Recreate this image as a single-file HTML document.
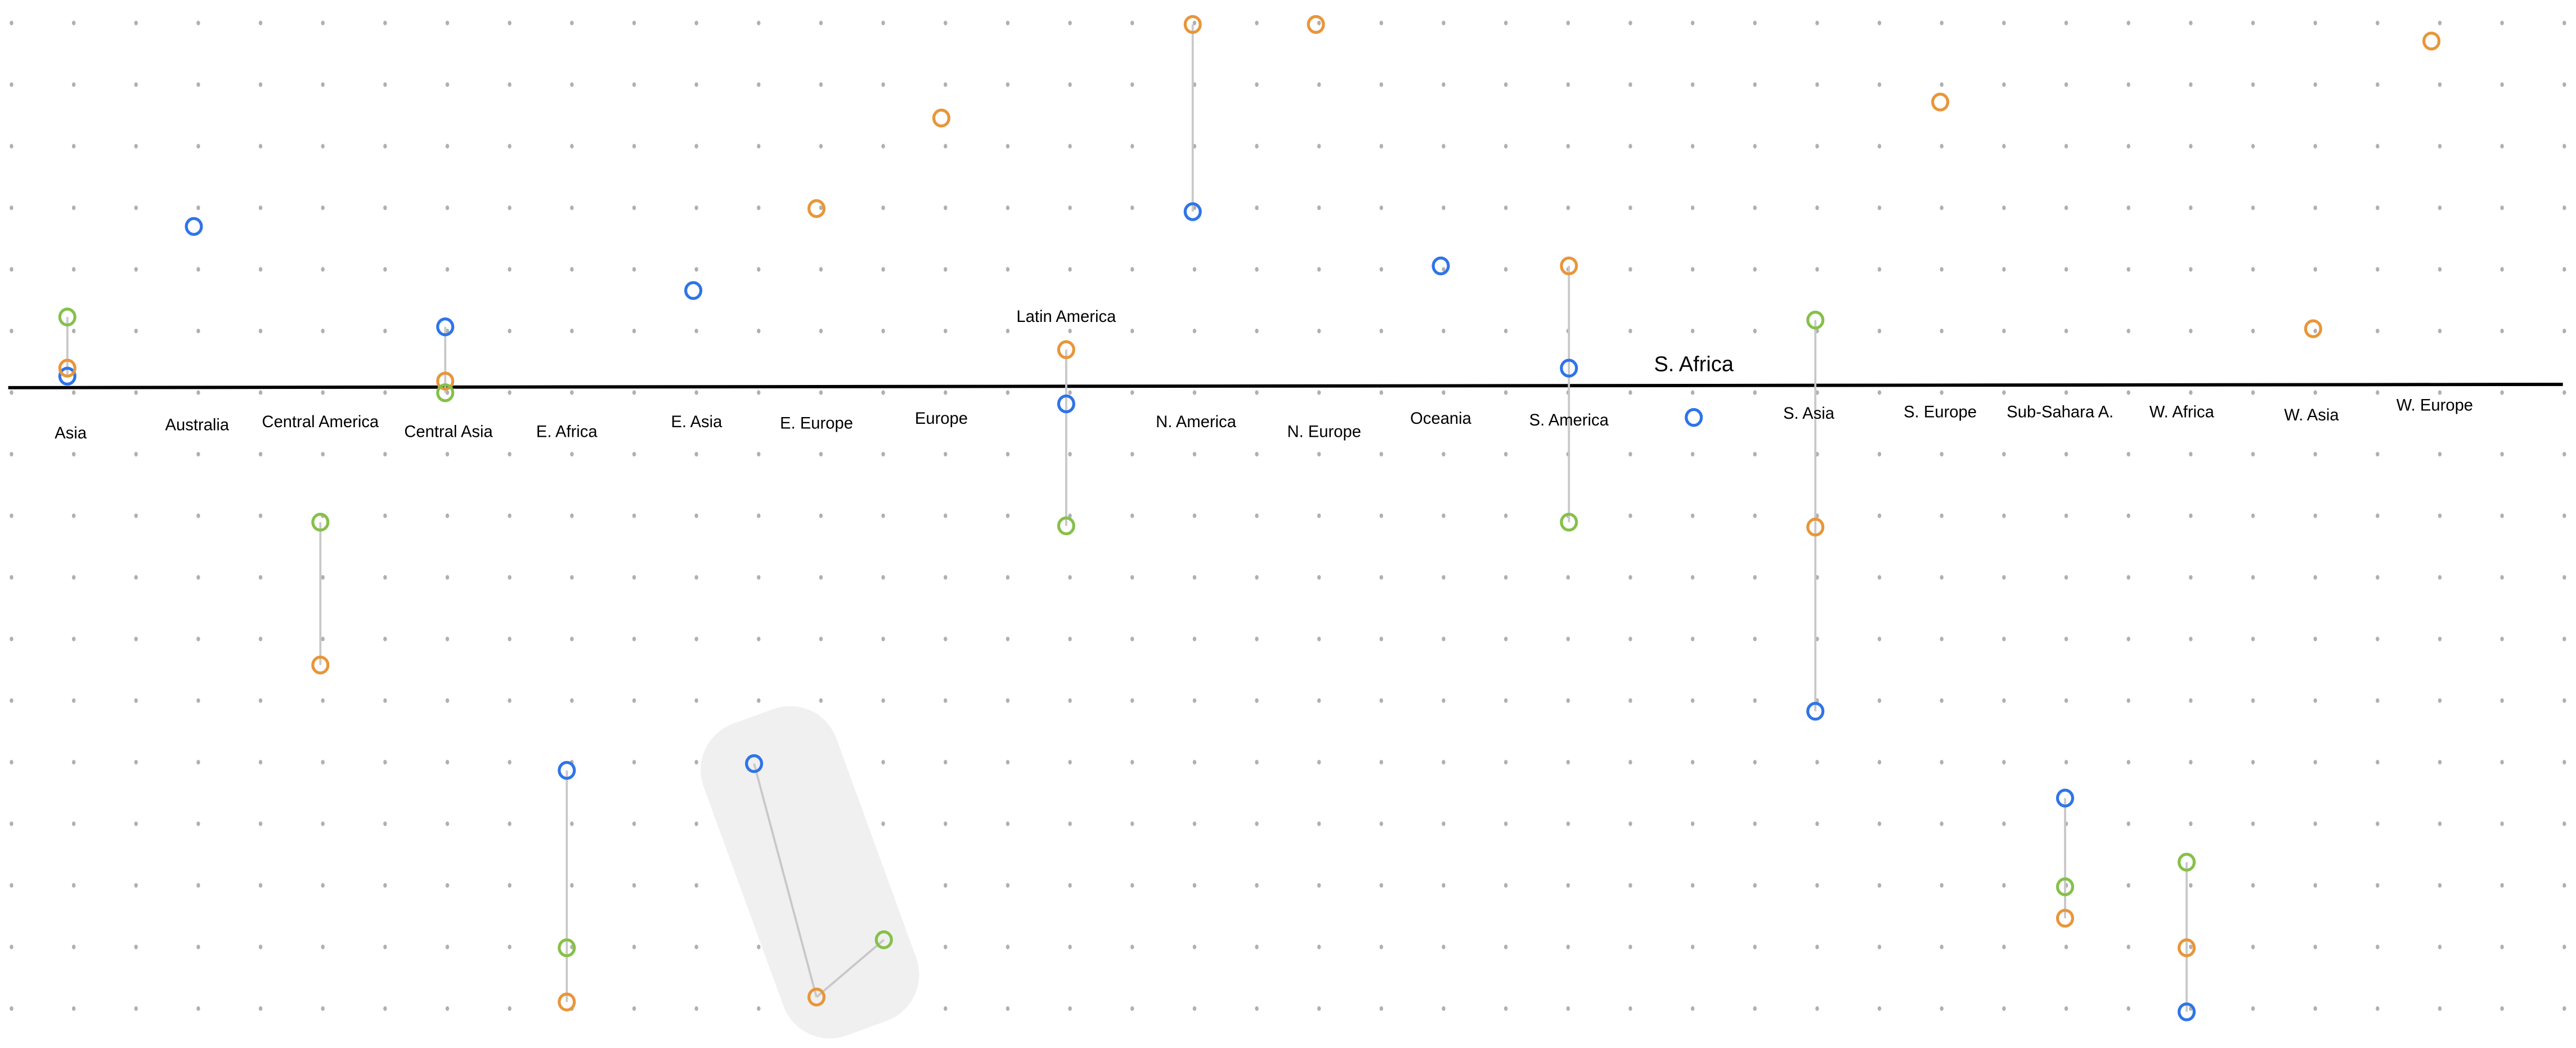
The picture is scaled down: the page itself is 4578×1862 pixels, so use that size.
<!DOCTYPE html>
<html><head><meta charset="utf-8"><style>
html,body{margin:0;padding:0;background:#fff;}
svg{display:block;}
text{font-family:"Liberation Sans",sans-serif;fill:#000;}
</style></head><body>
<svg id="chart" width="4578" height="1862" viewBox="0 0 1568 638" preserveAspectRatio="none" xmlns="http://www.w3.org/2000/svg">
<g id="grid"></g>
<rect x="450" y="430" width="86" height="202" rx="30" fill="#f0f0f0" transform="rotate(-20 493 531)"/>
<line x1="5" y1="236" x2="1560" y2="234" stroke="#000" stroke-width="2"/>
<g id="links"></g>
<g id="labels"></g>
<g id="points"></g>
</svg>
<script>
const categories=["Asia","Australia","Central America","Central Asia","E. Africa","E. Asia","E. Europe","Europe","Latin America","N. America","N. Europe","Oceania","S. America","S. Africa","S. Asia","S. Europe","Sub-Sahara A.","W. Africa","W. Asia","W. Europe"];
// values in grid units above (+) / below (-) the axis; null = no point
const blueValues=[0.16,2.59,null,0.96,-6.24,1.55,null,null,-0.29,2.83,null,1.95,0.29,-0.51,-5.28,null,-6.69,-10.16,null,null];
const orangeValues=[0.29,null,-4.53,0.08,-10.0,null,2.88,4.35,0.59,5.87,5.87,null,1.95,null,-2.29,4.61,-8.64,-9.12,0.93,5.6];
const greenValues=[1.12,null,-2.21,-0.11,-9.12,null,null,null,-2.27,null,null,null,-2.21,null,1.07,null,-8.13,-7.73,null,null];
const annoBlue=-6.13, annoOrange=-9.92, annoGreen=-8.99;
const catX=[41,118,195,271,345,422,497,573,649,726,801,877,955,1031,1105,1181,1257,1331,1408,1480];
const labelPos=[[43,263],[120,258],[195,256],[273,262],[345,262],[424,256],[497,257],[573,254],[649,192],[728,256],[806,262],[877,254],[955,255],[1031,222],[1101,251],[1181,250],[1254,250],[1328,250],[1407,252],[1482,246]];
const NS="http://www.w3.org/2000/svg";
const y0=235, unit=37.5;
function yScale(v){return y0-v*unit;}
function xScale(i){return catX[i];}
const grid=document.getElementById('grid');
for(let r=0;r<17;r++){for(let c=0;c<42;c++){
  const d=document.createElementNS(NS,'ellipse');
  
  
  d.setAttribute('cx',7+c*37.9);d.setAttribute('cy',14+r*37.5);
  d.setAttribute('rx',1.1);d.setAttribute('ry',1.4);d.setAttribute('fill','#b0b0b0');
  grid.appendChild(d);}}
const links=document.getElementById('links'),pts=document.getElementById('points'),labs=document.getElementById('labels');
function line(x1,y1,x2,y2){const l=document.createElementNS(NS,'line');
  
  
  l.setAttribute('x1',x1);l.setAttribute('y1',y1);l.setAttribute('x2',x2);l.setAttribute('y2',y2);
  l.setAttribute('stroke','#c8c8c8');l.setAttribute('stroke-width',1.3);links.appendChild(l);}
function circ(x,y,col,name,r){const c=document.createElementNS(NS,'ellipse');
  
  
  c.setAttribute('cx',x);c.setAttribute('cy',y);c.setAttribute('rx',r);c.setAttribute('ry',r*1.05);
  c.setAttribute('fill','none');c.setAttribute('stroke',col);c.setAttribute('stroke-width',1.8);pts.appendChild(c);}
const series=[[blueValues,'#2f74e8','blue'],[orangeValues,'#e8963a','orange'],[greenValues,'#86c04a','green']];
categories.forEach((cat,i)=>{
  const vs=series.map(s=>s[0][i]).filter(v=>v!==null);
  if(vs.length>1){line(xScale(i),yScale(Math.max(...vs)),xScale(i),yScale(Math.min(...vs)));}
  series.forEach(s=>{const v=s[0][i];if(v!==null)circ(xScale(i),yScale(v),s[1],'point-'+s[2],4.6);});
  const t=document.createElementNS(NS,'text');
  
  
  t.setAttribute('x',labelPos[i][0]);t.setAttribute('y',labelPos[i][1]+4);
  t.setAttribute('text-anchor','middle');t.setAttribute('font-size',cat==="S. Africa"?13:10);
  t.textContent=cat;labs.appendChild(t);
});
// bubble annotation
const ab=[459,yScale(annoBlue)],ao=[497,yScale(annoOrange)],ag=[538,yScale(annoGreen)];
line(ab[0],ab[1],ao[0],ao[1]);line(ao[0],ao[1],ag[0],ag[1]);
circ(ab[0],ab[1],'#2f74e8','annotation-point-blue',4.6);
circ(ao[0],ao[1],'#e8963a','annotation-point-orange',4.6);
circ(ag[0],ag[1],'#86c04a','annotation-point-green',4.6);
</script>
</body></html>
